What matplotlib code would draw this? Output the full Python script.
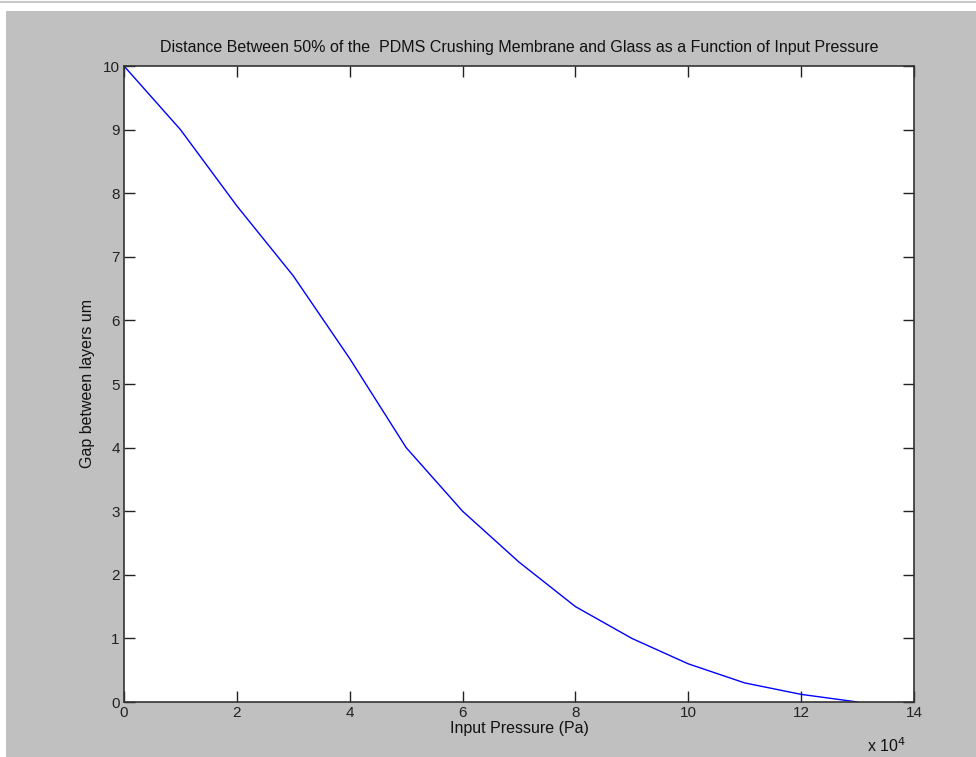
import numpy as np
import matplotlib.pyplot as plt
from matplotlib.patches import Rectangle
from matplotlib.lines import Line2D
from matplotlib.ticker import FuncFormatter

plt.rcParams['font.family'] = ['Liberation Sans', 'DejaVu Sans']

# data
pressure = [0, 10000, 20000, 30000, 40000, 50000, 60000, 70000,
            80000, 90000, 100000, 110000, 120000, 130000]  # Pa
gap = [10.0, 9.0, 7.8, 6.7, 5.4, 4.0, 3.0, 2.2, 1.5, 1.0, 0.6, 0.3, 0.12, 0.0]  # um
xticks = [0, 20000, 40000, 60000, 80000, 100000, 120000, 140000]
yticks = [0, 1, 2, 3, 4, 5, 6, 7, 8, 9, 10]

W, H = 976, 757
fig = plt.figure(figsize=(W / 100, H / 100), dpi=100, facecolor='white')

# gray matlab window behind the axes
fig.patches.append(Rectangle((6 / W, 0), 1 - 6 / W, 1 - 11 / H, transform=fig.transFigure,
                             facecolor='#c0c0c0', edgecolor='none', zorder=-10))
fig.lines.append(Line2D([0, 1], [1 - 1.5 / H, 1 - 1.5 / H], transform=fig.transFigure,
                        color='#c8c8c8', lw=1.5))

# axes box in pixels: left 124, right 914, top 66, bottom 702
ax = fig.add_axes([124 / W, 1 - 702 / H, (914 - 124) / W, (702 - 66) / H])
ax.set_facecolor('white')

ax.plot(pressure, gap, color='#0000ff', lw=1.0)

ax.set_xlim(0, 140000)
ax.set_ylim(0, 10)
ax.set_xticks(xticks)
ax.set_yticks(yticks)
ax.xaxis.set_major_formatter(FuncFormatter(lambda v, p: '%d' % round(v / 1e4)))

ax.tick_params(direction='in', length=8, width=1, top=True, right=True,
               labelsize=11, colors='#222222', pad=3)
for s in ax.spines.values():
    s.set_color('#333333')
    s.set_linewidth(1.2)

ax.set_title('Distance Between 50% of the  PDMS Crushing Membrane and Glass as a Function of Input Pressure',
             fontsize=11.5, pad=10, color='#111111')
ax.set_xlabel('Input Pressure (Pa)', fontsize=11.5, color='#111111', va='center')
ax.xaxis.set_label_coords(0.5, -0.042)
ax.set_ylabel('Gap between layers um', fontsize=11.5, color='#111111', va='center')
ax.yaxis.set_label_coords(-0.046, 0.5)

fig.text(867 / W, 1 - 746 / H, r'x 10$^4$', fontsize=11.5, ha='left', va='center', color='#111111')

fig.savefig('out.png', dpi=100, facecolor=fig.get_facecolor())
